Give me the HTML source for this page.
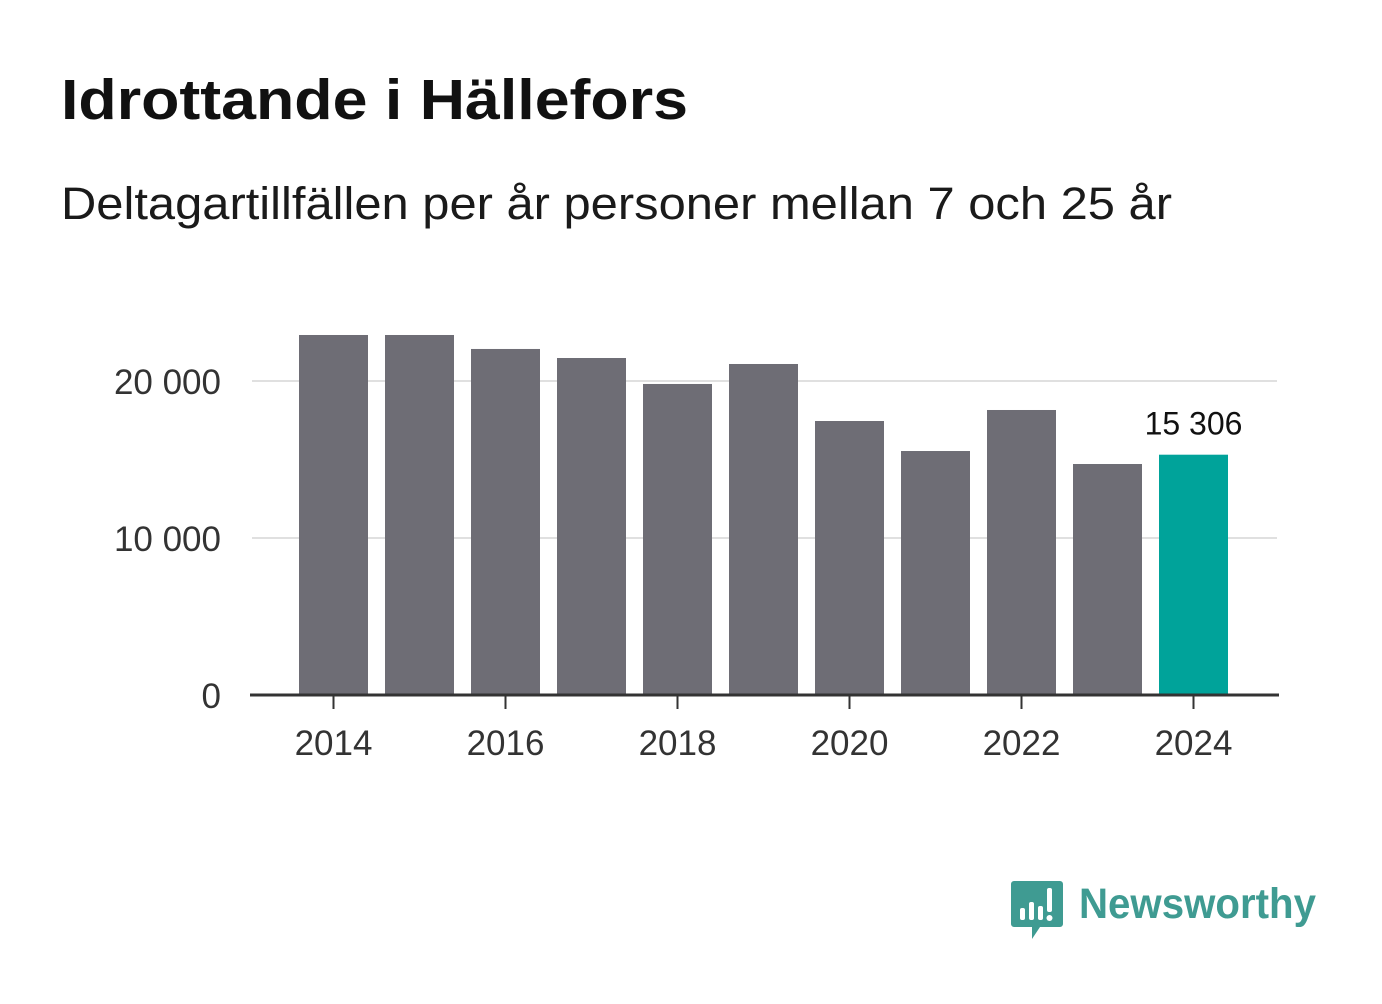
<!DOCTYPE html>
<html><head><meta charset="utf-8">
<style>
body{margin:0;background:#fff;width:1382px;height:999px;overflow:hidden;font-family:"Liberation Sans",sans-serif}
</style></head>
<body>
<svg id="chart" width="1382" height="999" xmlns="http://www.w3.org/2000/svg">
<text x="61" y="119" font-size="57" font-weight="bold" fill="#111" textLength="627" lengthAdjust="spacingAndGlyphs" font-family="Liberation Sans, sans-serif">Idrottande i Hällefors</text>
<text x="61" y="219" font-size="45" fill="#1a1a1a" textLength="1111" lengthAdjust="spacingAndGlyphs" font-family="Liberation Sans, sans-serif">Deltagartillfällen per år personer mellan 7 och 25 år</text>
<g id="grid"></g><g id="bars"></g><g id="axes"></g>
<g>
<path d="M1014 881 h46 a3 3 0 0 1 3 3 v40 a3 3 0 0 1 -3 3 h-20 l-8 12 v-12 h-18 a3 3 0 0 1 -3 -3 v-40 a3 3 0 0 1 3 -3z" fill="#3f9b92"/>
<rect x="1020" y="908" width="5" height="12" rx="2" fill="#fff"/>
<rect x="1029" y="902" width="5" height="18" rx="2" fill="#fff"/>
<rect x="1038" y="906" width="5" height="14" rx="2" fill="#fff"/>
<rect x="1047" y="888" width="5" height="24" rx="2" fill="#fff"/>
<circle cx="1049.5" cy="918" r="3" fill="#fff"/>
<text x="1079" y="918" font-size="43" font-weight="bold" fill="#3f9b92" textLength="237" lengthAdjust="spacingAndGlyphs" font-family="Liberation Sans, sans-serif">Newsworthy</text>
</g>
</svg>
<script>
const years=[2014,2015,2016,2017,2018,2019,2020,2021,2022,2023,2024];
const values=[22930,22930,22040,21465,19810,21083,17452,15541,18153,14713,15306];
const yTicks=[0,10000,20000];
const yTickLabels=["0","10 000","20 000"];
const xTickYears=[2014,2016,2018,2020,2022,2024];
const NS="http://www.w3.org/2000/svg";
function y(v){return 695-v*157/10000;}
function xc(yr){return 333.5+(yr-2014)*86;}
const bw=69;
function mk(tag,attrs,parent){const e=document.createElementNS(NS,tag);for(const k in attrs)e.setAttribute(k,attrs[k]);parent.appendChild(e);return e;}
const grid=document.getElementById('grid'),bars=document.getElementById('bars'),axes=document.getElementById('axes');
yTicks.forEach((t,i)=>{
 if(t>0){const l=mk('line',{x1:252,x2:1277,y1:y(t),y2:y(t),stroke:'#e0e0e0','stroke-width':2},grid);
 
 }
 const tx=mk('text',{x:221,y:y(t)+13,'text-anchor':'end','font-size':35,fill:'#333','font-family':'Liberation Sans, sans-serif'},axes);
 tx.textContent=yTickLabels[i];
 
 
});
years.forEach((yr,i)=>{
 const last=i===years.length-1;
 const r=mk('rect',{x:xc(yr)-bw/2,y:y(values[i]),width:bw,height:695-y(values[i]),fill:last?'#00a39a':'#6e6d75'},bars);
 
 
 if(last){const t=mk('text',{x:xc(yr),y:y(values[i])-20,'text-anchor':'middle','font-size':32,fill:'#111','font-family':'Liberation Sans, sans-serif'},bars);
 t.textContent=values[i].toLocaleString('sv-SE').replace(/\u00a0/g,' ');
 
 }
});
const ax=mk('line',{x1:250,x2:1279,y1:695,y2:695,stroke:'#333','stroke-width':3},axes);


xTickYears.forEach(yr=>{
 const tk=mk('line',{x1:xc(yr),x2:xc(yr),y1:695,y2:709,stroke:'#333','stroke-width':2},axes);
 
 
 const t=mk('text',{x:xc(yr),y:755,'text-anchor':'middle','font-size':35,fill:'#333','font-family':'Liberation Sans, sans-serif'},axes);
 t.textContent=yr;
 
 
});
</script>
</body></html>
